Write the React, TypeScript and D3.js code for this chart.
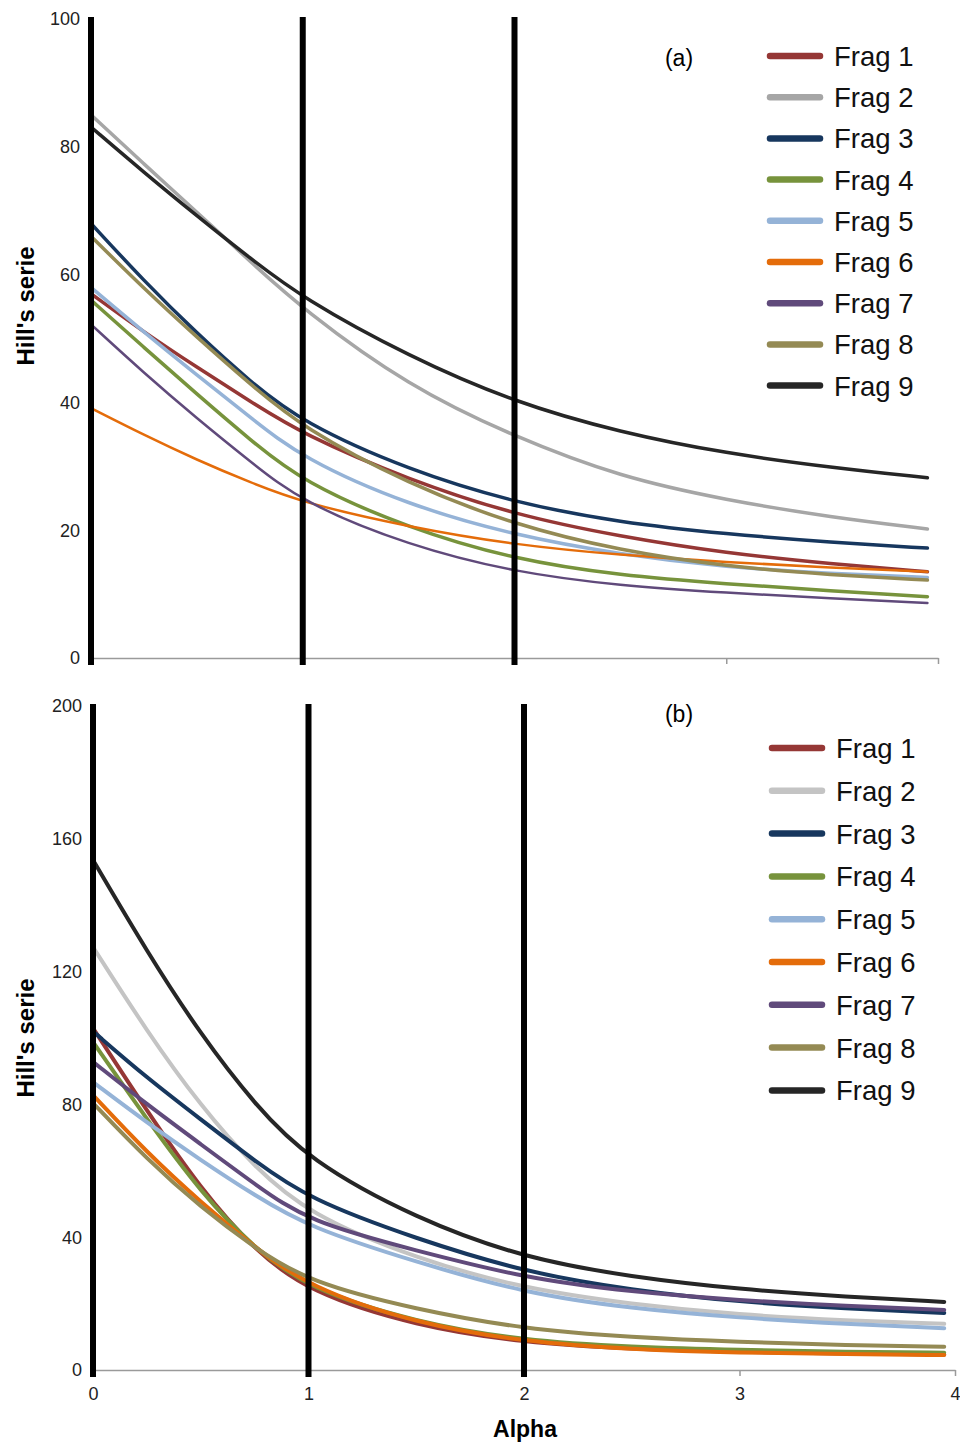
import React, { useEffect, useRef } from 'react';
import * as d3 from 'd3';

// alpha values where the curves were read
const alphas = [0, 0.25, 0.5, 0.75, 1, 1.5, 2, 2.5, 3, 3.5, 3.95];

const fragNames = ['Frag 1', 'Frag 2', 'Frag 3', 'Frag 4', 'Frag 5', 'Frag 6', 'Frag 7', 'Frag 8', 'Frag 9'];

// panel (a)
const seriesA = [
  [57, 51, 45.5, 40.2, 35, 27.9, 22.4, 19, 16.4, 14.7, 13.5],
  [85, 77.3, 69.8, 62.1, 54.6, 42.5, 34.6, 28.3, 24.7, 22, 20.2],
  [68, 59, 50.8, 43.3, 36.8, 29.4, 24.3, 21.2, 19.4, 18.1, 17.2],
  [56, 48.6, 41.3, 34.2, 27.5, 20.3, 15.4, 12.9, 11.6, 10.5, 9.6],
  [58, 51, 44.3, 37.7, 31.2, 23.9, 19.2, 16.2, 14.2, 13.2, 12.6],
  [39.1, 34.9, 31, 27.5, 24.3, 20.5, 17.7, 16.1, 15, 14.1, 13.5],
  [52.2, 44.6, 37.5, 30.8, 24.3, 17.6, 13.4, 11.3, 10.2, 9.3, 8.6],
  [66, 57.8, 50.2, 42.9, 36, 27.2, 20.8, 16.8, 14.3, 13, 12.2],
  [83.1, 76, 69.2, 62.6, 56.3, 47.2, 40, 35.3, 32, 29.8, 28.2],
];

// panel (b)
const seriesB = [
  [103, 78, 54.5, 36, 23.5, 13.2, 8.2, 6.3, 5.4, 4.9, 4.7],
  [127.4, 102, 79.5, 61, 47, 33.5, 24.5, 19.8, 16.6, 14.9, 13.9],
  [102, 88, 75.5, 63, 51.5, 39.5, 29.5, 24, 20.5, 18.5, 17.2],
  [98.8, 75.5, 53.5, 36.5, 24.5, 14.3, 8.8, 6.9, 6, 5.5, 5.2],
  [86.7, 74.5, 63.2, 52.6, 43, 32.5, 23.2, 18.5, 15.7, 13.8, 12.6],
  [82.8, 65.5, 50.5, 37, 25, 14, 8.5, 6.2, 5.2, 4.8, 4.5],
  [92.8, 80, 68, 56, 44.6, 36, 27.7, 23.5, 21, 19.2, 18.1],
  [80.4, 63.5, 49, 36.8, 26.5, 18.2, 12.3, 9.8, 8.4, 7.5, 7],
  [153.6, 126, 101, 80, 63.2, 45.5, 33.7, 28, 24.3, 22, 20.5],
];

const colorsA = ['#953735', '#a6a6a6', '#17375e', '#77933c', '#95b3d7', '#e46c0a', '#604a7b', '#948a54', '#262626'];
const colorsB = ['#953735', '#c4c4c4', '#17375e', '#77933c', '#95b3d7', '#e46c0a', '#604a7b', '#948a54', '#262626'];

const yTicksA = [0, 20, 40, 60, 80, 100];
const yTicksB = [0, 40, 80, 120, 160, 200];
const xTicks = [0, 1, 2, 3, 4];
const markedAlphas = [0, 1, 2];

const font = 'Liberation Sans, Arial, sans-serif';

function drawPanel(svg, opts) {
  const { left, right, top, bottom, yMax, yTicks, series, colors, label, labelY, titleY, showXLabels, legendX, legendY, legendStep, lineW } = opts;

  const x = d3.scaleLinear().domain([0, 4]).range([left, right]);
  const y = d3.scaleLinear().domain([0, yMax]).range([bottom, top]);
  const g = svg.append('g');

  // x axis (grey line with ticks below)
  const xAxis = g.append('g')
    .attr('transform', `translate(0,${bottom})`)
    .call(d3.axisBottom(x).tickValues(xTicks).tickSize(6).tickSizeOuter(0)
      .tickFormat(showXLabels ? d3.format('d') : () => ''));
  xAxis.attr('font-size', 18).attr('font-family', font);
  xAxis.select('.domain').attr('stroke', '#9a9a9a').attr('stroke-width', 1.5);
  xAxis.selectAll('.tick line').attr('stroke', '#9a9a9a').attr('stroke-width', 1.5);
  xAxis.selectAll('.tick text').attr('fill', '#222').attr('y', 17);

  // y tick labels
  g.selectAll('.ylab').data(yTicks).enter().append('text')
    .attr('x', left - 11)
    .attr('y', (d) => y(d))
    .attr('dy', '0.35em')
    .attr('text-anchor', 'end')
    .attr('font-family', font).attr('font-size', 18).attr('fill', '#222')
    .text((d) => d);

  // curves (smoothed like the spreadsheet lines)
  const line = d3.line()
    .x((d, i) => x(alphas[i]))
    .y((d) => y(d))
    .curve(d3.curveBasis);

  g.selectAll('.curve').data(series).enter().append('path')
    .attr('d', (d) => line(d))
    .attr('fill', 'none')
    .attr('stroke', (d, i) => colors[i])
    .attr('stroke-width', (d, i) => lineW[i])
    .attr('stroke-linecap', 'round');

  // thick black lines at alpha 0,1,2
  g.selectAll('.mark').data(markedAlphas).enter().append('line')
    .attr('x1', (d) => x(d)).attr('x2', (d) => x(d))
    .attr('y1', top - 2).attr('y2', bottom + 7)
    .attr('stroke', '#000').attr('stroke-width', 6);

  // y title
  g.append('text')
    .attr('transform', `translate(34,${titleY}) rotate(-90)`)
    .attr('text-anchor', 'middle')
    .attr('font-family', font).attr('font-size', 24).attr('font-weight', 'bold')
    .text("Hill's serie");

  // panel label
  g.append('text')
    .attr('x', 679).attr('y', labelY)
    .attr('text-anchor', 'middle')
    .attr('font-family', font).attr('font-size', 23)
    .text(label);

  // legend
  const leg = g.selectAll('.leg').data(fragNames).enter().append('g')
    .attr('transform', (d, i) => `translate(${legendX},${legendY + i * legendStep})`);
  leg.append('line')
    .attr('x1', 0).attr('x2', 50)
    .attr('stroke', (d, i) => colors[i]).attr('stroke-width', 6.5).attr('stroke-linecap', 'round');
  leg.append('text')
    .attr('x', 64).attr('dy', '0.36em')
    .attr('font-family', font).attr('font-size', 27.5).attr('fill', '#111')
    .text((d) => d);
}

export default function App() {
  const ref = useRef(null);

  useEffect(() => {
    const svg = d3.select(ref.current);
    svg.selectAll('*').remove();

    drawPanel(svg, {
      left: 91, right: 938, top: 19, bottom: 658, yMax: 100,
      yTicks: yTicksA, series: seriesA, colors: colorsA, label: '(a)', labelY: 66, titleY: 306,
      showXLabels: false,
      legendX: 770, legendY: 56, legendStep: 41.2,
      lineW: [3.5, 3.5, 3.5, 3.5, 3.5, 2.5, 2.5, 3.5, 3.5],
    });

    drawPanel(svg, {
      left: 93, right: 955, top: 706, bottom: 1370, yMax: 200,
      yTicks: yTicksB, series: seriesB, colors: colorsB, label: '(b)', labelY: 722, titleY: 1038,
      showXLabels: true,
      legendX: 772, legendY: 748, legendStep: 42.8,
      lineW: [4, 4, 4, 4, 4, 4, 4, 4, 4],
    });

    // x title
    svg.append('text')
      .attr('x', 525).attr('y', 1437)
      .attr('text-anchor', 'middle')
      .attr('font-family', font).attr('font-size', 23).attr('font-weight', 'bold')
      .text('Alpha');
  }, []);

  return (
    <svg ref={ref} width={960} height={1443} style={{ position: 'absolute', left: 0, top: 0, background: '#fff' }}></svg>
  );
}
